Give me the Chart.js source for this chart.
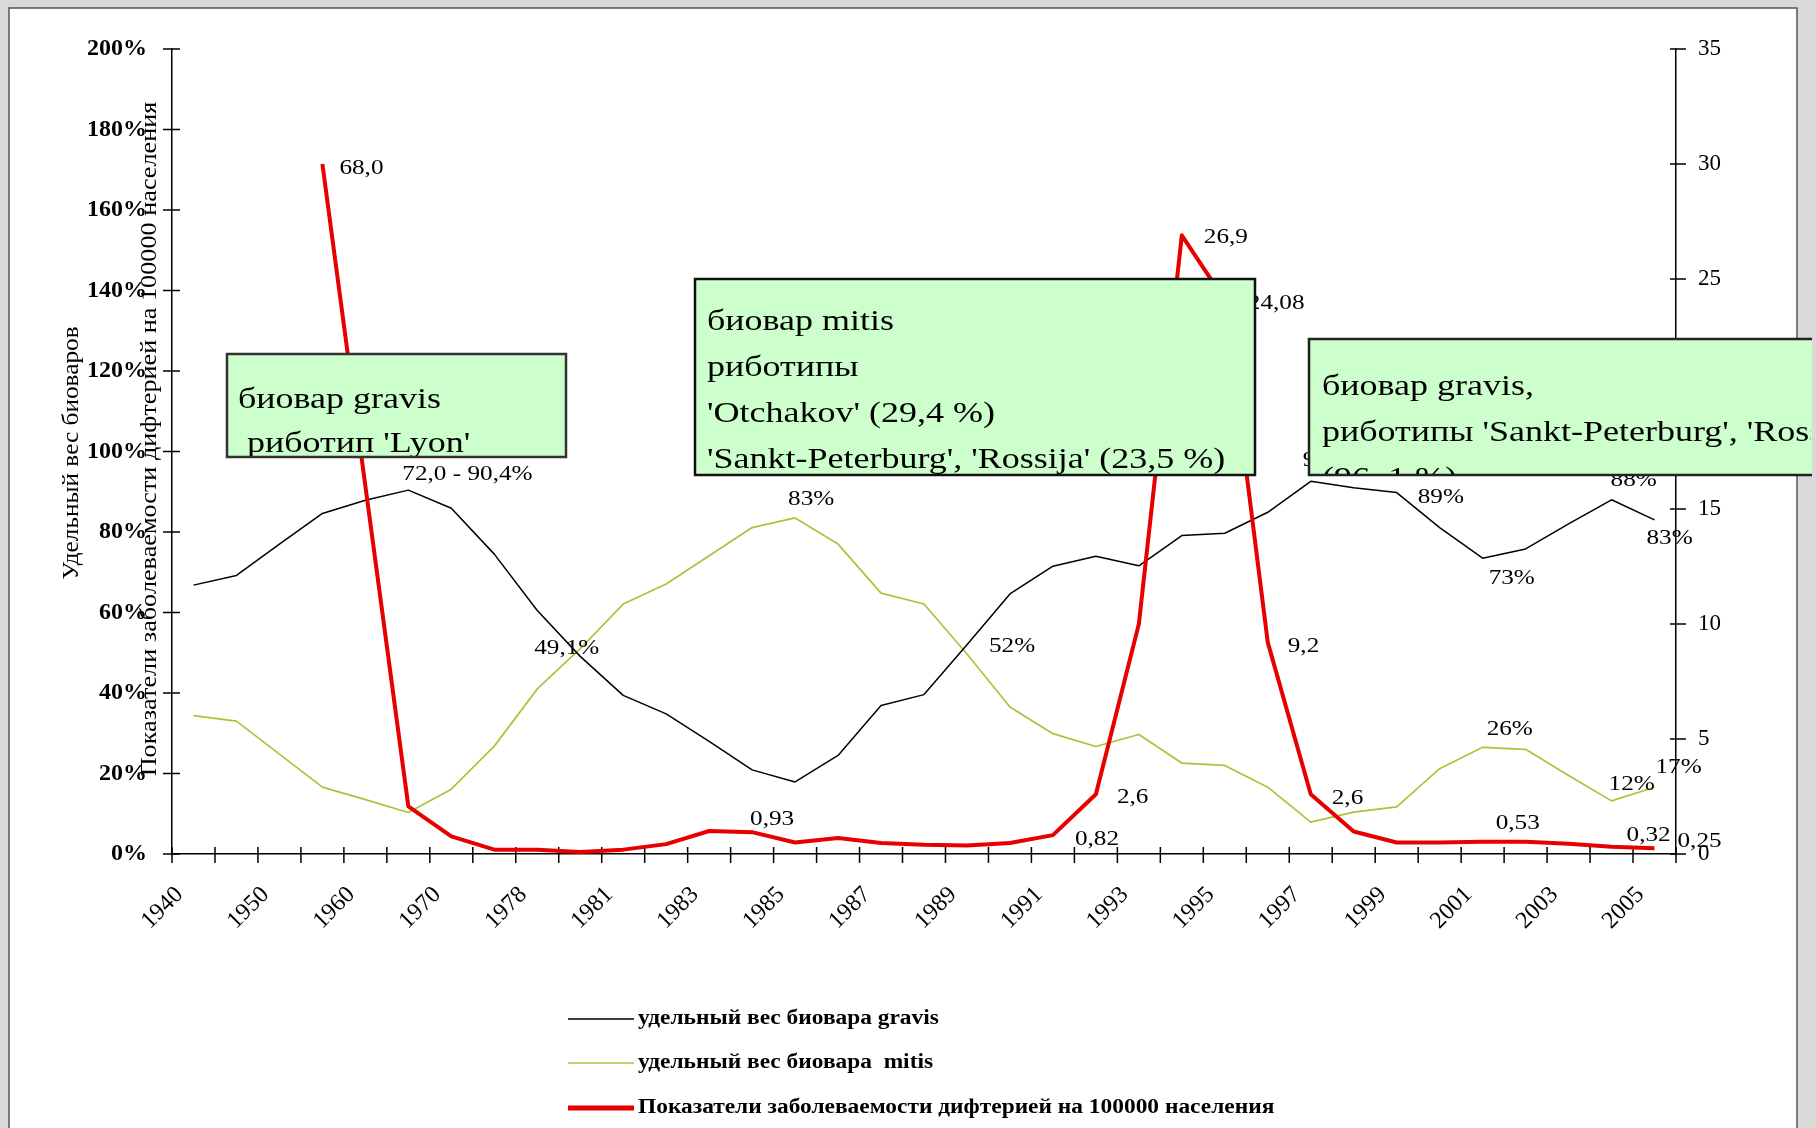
<!DOCTYPE html>
<html lang="ru">
<head>
<meta charset="utf-8">
<title>Биовары и заболеваемость дифтерией</title>
<script src="https://cdn.jsdelivr.net/npm/chart.js@4.4.1/dist/chart.umd.min.js"></script>
<style>
  html, body { margin: 0; padding: 0; background: #d9d9d9; }
  canvas { display: block; }
</style>
</head>
<body>
<canvas id="chart" width="1816" height="1128"></canvas>
<script>
// categories (every second one is labelled on the axis)
const years = ["1940", "1945", "1950", "1955", "1960", "1965", "1970", "1975", "1978", "1980",
    "1981", "1982", "1983", "1984", "1985", "1986", "1987", "1988", "1989", "1990",
    "1991", "1992", "1993", "1994", "1995", "1996", "1997", "1998", "1999", "2000",
    "2001", "2002", "2003", "2004", "2005"];

// share of biovar gravis, %
const gravisShare = [66.8, 69.2, 77, 84.6, 87.9, 90.4, 85.9, 74.5, 60.5, 49.1,
    39.4, 34.8, 28, 20.9, 17.9, 24.5, 36.9, 39.6, 52, 64.6,
    71.5, 74, 71.6, 79.1, 79.7, 84.9, 92.6, 91, 89.8, 81.1,
    73.5, 75.8, 82, 88, 83];

// share of biovar mitis, %
const mitisShare = [34.4, 33, 24.8, 16.6, 13.5, 10.3, 16.1, 26.8, 41, 51,
    62.1, 67.1, 74.1, 81.1, 83.5, 77, 64.8, 62.1, 49.7, 36.5,
    29.9, 26.7, 29.7, 22.6, 22, 16.6, 7.9, 10.4, 11.7, 21.2,
    26.5, 26, 19.5, 13.2, 16.6];

// diphtheria incidence per 100000 (right axis)
const diphtheriaRate = [null, null, null, 30.0, 16.0, 2.07, 0.77, 0.19, 0.19, 0.09,
    0.19, 0.43, 1.0, 0.95, 0.5, 0.7, 0.48, 0.4, 0.37, 0.48,
    0.82, 2.6, 10.0, 26.9, 24.08, 9.2, 2.6, 0.98, 0.5, 0.5,
    0.53, 0.53, 0.45, 0.32, 0.25];

const leftTicks = { min: 0, max: 200, step: 20 };
const rightTicks = { min: 0, max: 35, step: 5 };

// value labels: [category index, text]
const gravisLabels = [[5, "72,0 - 90,4%"], [9, "49,1%"], [18, "52%"], [26, "92%"], [28, "89%"], [30, "73%"], [33, "88%"], [34, "83%"]];
const mitisLabels = [[14, "83%"], [30, "26%"], [33, "12%"], [34, "17%"]];
const rateLabels = [[3, "68,0"], [13, "0,93"], [20, "0,82"], [21, "2,6"], [23, "26,9"], [24, "24,08"], [25, "9,2"], [26, "2,6"], [30, "0,53"], [33, "0,32"], [34, "0,25"]];

const calloutTexts = [
    ["биовар gravis", " риботип 'Lyon'"],
    ["биовар mitis", "риботипы", "'Otchakov' (29,4 %)", "'Sankt-Peterburg', 'Rossija' (23,5 %)"],
    ["биовар gravis,", "риботипы 'Sankt-Peterburg', 'Rossija'", "(96, 1 %)"]
];

const leftTitle = "Удельный вес биоваров";
const rightTitle = "Показатели заболеваемости дифтерией на 100000 населения";

// ---- placement (pixels) ----
const labelOffsets = [
    { 5: [-6, -16], 9: [-46, -8], 18: [22, 2], 26: [-8, -21], 28: [21, 5], 30: [6, 20], 33: [-1, -19], 34: [-8, 19] },
    { 14: [-7, -18], 30: [4, -18], 33: [-3, -16], 34: [1, -20] },
    { 3: [17, 4], 13: [-2, -13], 20: [22, 4], 21: [21, 3], 23: [22, 2], 24: [23, 3], 25: [20, 4], 26: [21, 4], 30: [13, -18], 33: [15, -11], 34: [23, -7] }
];

const calloutBoxes = [
    { x: 227, y: 354, w: 339, h: 103, border: "#333", tx: 238, baselines: [408, 452] },
    { x: 695, y: 279, w: 560, h: 196, border: "#111", tx: 707, baselines: [330, 376, 422, 468] },
    { x: 1309, y: 339, w: 503, h: 136, border: "#222", tx: 1322, baselines: [395, 441, 487], openRight: true }
];

function stretchText(ctx, text, x, y, sx) {
    ctx.save();
    ctx.translate(x, y);
    ctx.scale(sx, 1);
    ctx.fillText(text, 0, 0);
    ctx.restore();
}

const sheet = {
    id: "sheet",
    beforeDraw(chart) {
        const ctx = chart.ctx;
        ctx.save();
        ctx.fillStyle = "#d9d9d9";
        ctx.fillRect(0, 0, chart.width, chart.height);
        ctx.fillStyle = "#fff";
        ctx.fillRect(9, 8, 1788, 1130);
        ctx.strokeStyle = "#555";
        ctx.lineWidth = 1.5;
        ctx.strokeRect(9, 8, 1788, 1130);
        ctx.restore();
    }
};

const crossTicks = {
    id: "crossTicks",
    beforeDatasetsDraw(chart) {
        const { ctx, scales } = chart;
        const { x, y, y1 } = scales;
        ctx.save();
        ctx.strokeStyle = "#000";
        ctx.lineWidth = 1.5;
        ctx.beginPath();
        y.ticks.forEach((t) => {
            const py = y.getPixelForValue(t.value);
            ctx.moveTo(y.right - 9, py);
            ctx.lineTo(y.right + 8, py);
        });
        y1.ticks.forEach((t) => {
            const py = y1.getPixelForValue(t.value);
            ctx.moveTo(y1.left - 6, py);
            ctx.lineTo(y1.left + 10, py);
        });
        for (let k = 0; k <= x.ticks.length; k++) {
            const px = x.getPixelForValue(k - 0.5);
            ctx.moveTo(px, x.top - 7);
            ctx.lineTo(px, x.top + 9);
        }
        ctx.stroke();

        // axis titles on the left
        ctx.fillStyle = "#000";
        ctx.textAlign = "center";
        ctx.textBaseline = "middle";
        ctx.font = '23px "Liberation Serif"';
        ctx.save();
        ctx.translate(72, 453);
        ctx.rotate(-Math.PI / 2);
        stretchText(ctx, leftTitle, 0, 0, 1.1);
        ctx.restore();
        ctx.save();
        ctx.translate(150, 439);
        ctx.rotate(-Math.PI / 2);
        stretchText(ctx, rightTitle, 0, 0, 1.14);
        ctx.restore();
        ctx.restore();
    }
};

const pointLabels = {
    id: "pointLabels",
    afterDatasetsDraw(chart) {
        const ctx = chart.ctx;
        const lists = [gravisLabels, mitisLabels, rateLabels];
        ctx.save();
        ctx.font = '21px "Liberation Serif"';
        ctx.fillStyle = "#000";
        ctx.textAlign = "left";
        ctx.textBaseline = "middle";
        lists.forEach((list, di) => {
            const meta = chart.getDatasetMeta(di);
            list.forEach(([i, text]) => {
                const pt = meta.data[i];
                const off = labelOffsets[di][i];
                stretchText(ctx, text, pt.x + off[0], pt.y + off[1], 1.2);
            });
        });
        ctx.restore();
    }
};

const callouts = {
    id: "callouts",
    afterDraw(chart) {
        const ctx = chart.ctx;
        calloutBoxes.forEach((b, n) => {
            ctx.save();
            ctx.fillStyle = "#ccffcc";
            ctx.fillRect(b.x, b.y, b.w, b.h);
            ctx.strokeStyle = b.border;
            ctx.lineWidth = 2.5;
            ctx.beginPath();
            if (b.openRight) {
                ctx.moveTo(b.x + b.w, b.y);
                ctx.lineTo(b.x, b.y);
                ctx.lineTo(b.x, b.y + b.h);
                ctx.lineTo(b.x + b.w, b.y + b.h);
            } else {
                ctx.rect(b.x, b.y, b.w, b.h);
            }
            ctx.stroke();
            ctx.beginPath();
            ctx.rect(b.x + 1, b.y + 1, b.w - 2, b.h - 2);
            ctx.clip();
            ctx.fillStyle = "#000";
            ctx.font = '30px "Liberation Serif"';
            ctx.textAlign = "left";
            ctx.textBaseline = "alphabetic";
            calloutTexts[n].forEach((line, k) => {
                stretchText(ctx, line, b.tx, b.baselines[k], 1.2);
            });
            ctx.restore();
        });
    }
};

const legendRows = {
    id: "legendRows",
    afterDraw(chart) {
        const ctx = chart.ctx;
        const rowsY = [1019, 1063, 1108];
        ctx.save();
        ctx.font = 'bold 20px "Liberation Serif"';
        ctx.fillStyle = "#000";
        ctx.textAlign = "left";
        ctx.textBaseline = "middle";
        chart.data.datasets.forEach((ds, i) => {
            const yy = rowsY[i];
            ctx.strokeStyle = ds.borderColor;
            ctx.lineWidth = i === 2 ? 5 : 1.5;
            ctx.beginPath();
            ctx.moveTo(568, yy);
            ctx.lineTo(634, yy);
            ctx.stroke();
            stretchText(ctx, ds.label, 638, yy, 1.17);
        });
        ctx.restore();
    }
};

new Chart(document.getElementById("chart"), {
    type: "line",
    data: {
        labels: years,
        datasets: [
            {
                label: "удельный вес биовара gravis",
                data: gravisShare,
                yAxisID: "y",
                borderColor: "#000000",
                borderWidth: 1.5,
                order: 1,
            },
            {
                label: "удельный вес биовара  mitis",
                data: mitisShare,
                yAxisID: "y",
                borderColor: "#a2c83a",
                borderWidth: 1.7,
                order: 2,
            },
            {
                label: "Показатели заболеваемости дифтерией на 100000 населения",
                data: diphtheriaRate,
                yAxisID: "y1",
                borderColor: "#e60000",
                borderWidth: 4,
                order: 0,
            },
        ],
    },
    options: {
        responsive: false,
        animation: false,
        devicePixelRatio: 1,
        layout: { padding: { top: 49, left: 0, right: 0, bottom: 0 } },
        elements: {
            point: { radius: 0, hoverRadius: 0 },
            line: { tension: 0, fill: false, borderJoinStyle: "round" },
        },
        plugins: {
            legend: { display: false },
            tooltip: { enabled: false },
        },
        scales: {
            x: {
                offset: true,
                grid: { display: true, offset: true, drawOnChartArea: false, drawTicks: false },
                border: { display: true, color: "#000", width: 1.5 },
                ticks: {
                    autoSkip: false,
                    maxRotation: 45,
                    minRotation: 45,
                    padding: 27,
                    labelOffset: -14,
                    color: "#000",
                    font: { family: "Liberation Serif", size: 24 },
                    callback: function (v, i) {
                        return i % 2 === 0 ? this.getLabelForValue(v) : "";
                    },
                },
                afterFit(s) { s.height = 274; },
            },
            y: {
                position: "left",
                min: leftTicks.min,
                max: leftTicks.max,
                grid: { drawOnChartArea: false, drawTicks: false },
                border: { display: true, color: "#000", width: 1.5 },
                ticks: {
                    stepSize: leftTicks.step,
                    padding: 25,
                    color: "#000",
                    font: { family: "Liberation Serif", size: 24, weight: "bold" },
                    callback: (v) => v + "%",
                },
                afterFit(s) { s.width = 172; },
            },
            y1: {
                position: "right",
                min: rightTicks.min,
                max: rightTicks.max,
                grid: { drawOnChartArea: false, drawTicks: false },
                border: { display: true, color: "#000", width: 1.5 },
                ticks: {
                    stepSize: rightTicks.step,
                    padding: 22,
                    color: "#000",
                    font: { family: "Liberation Serif", size: 23 },
                },
                afterFit(s) { s.width = 140; },
            },
        },
    },
    plugins: [sheet, crossTicks, pointLabels, callouts, legendRows],
});
</script>
</body>
</html>
